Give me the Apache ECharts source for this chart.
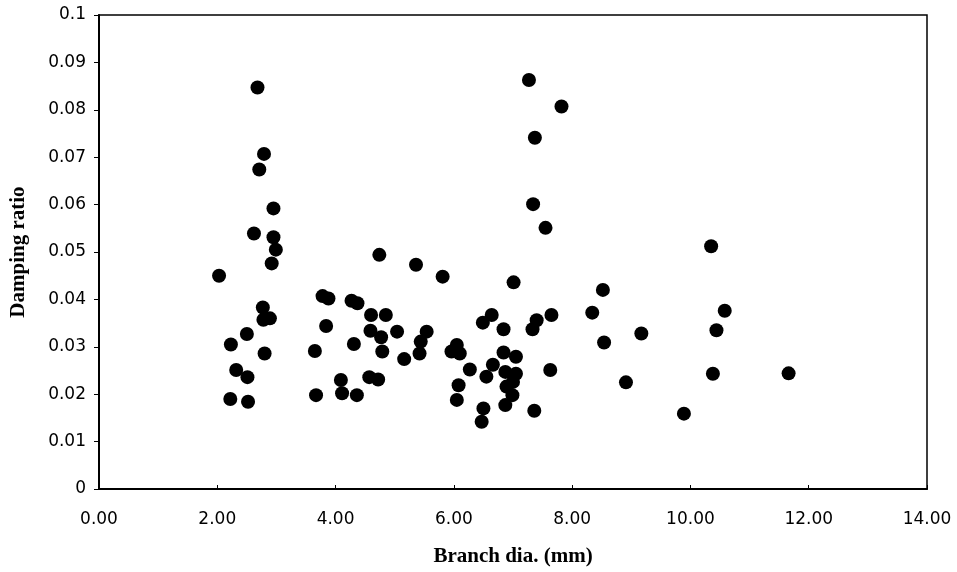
<!DOCTYPE html>
<html>
<head>
<meta charset="utf-8">
<script src="https://cdn.jsdelivr.net/npm/echarts@6/dist/echarts.min.js"></script>
<style>html,body{margin:0;padding:0;background:#fff}#c{width:957px;height:572px}</style>
</head>
<body>
<div id="c"></div>
<script>
// Branch diameter (mm)
var branchDia = [
  2.03, 2.23, 2.32, 2.50, 2.51, 2.22, 2.52, 2.77, 2.78, 2.89,
  2.80, 2.92, 2.99, 2.95, 2.95, 2.62, 2.71, 2.79, 2.68, 3.65,
  3.67, 3.78, 3.88, 3.84, 4.27, 4.37, 4.60, 4.85, 4.59, 4.77,
  5.04, 5.54, 5.44, 5.42, 5.16, 4.79, 4.31, 4.09, 4.11, 4.36,
  4.57, 4.72, 4.74, 5.36, 5.81, 7.01, 8.52, 6.64, 6.49, 6.84,
  7.40, 7.33, 7.65, 6.05, 5.96, 6.10, 6.84, 7.05, 6.27, 6.66,
  6.55, 6.87, 7.05, 7.63, 6.08, 6.89, 7.00, 6.99, 6.05, 6.87,
  6.50, 6.47, 7.36, 7.27, 7.82, 7.37, 7.34, 7.55, 8.34, 8.54,
  9.17, 8.91, 9.89, 10.35, 10.58, 10.44, 10.38, 11.66
];
// Damping ratio
var dampingRatio = [
  0.0450, 0.0305, 0.0251, 0.0327, 0.0236, 0.0190, 0.0184, 0.0383, 0.0357, 0.0360,
  0.0286, 0.0476, 0.0505, 0.0531, 0.0592, 0.0539, 0.0674, 0.0707, 0.0847, 0.0291,
  0.0198, 0.0407, 0.0402, 0.0344, 0.0397, 0.0392, 0.0367, 0.0367, 0.0334, 0.0320,
  0.0332, 0.0332, 0.0311, 0.0286, 0.0274, 0.0290, 0.0306, 0.0230, 0.0202, 0.0198,
  0.0236, 0.0231, 0.0494, 0.0473, 0.0448, 0.0436, 0.0420, 0.0367, 0.0351, 0.0337,
  0.0356, 0.0337, 0.0367, 0.0304, 0.0290, 0.0286, 0.0288, 0.0279, 0.0252, 0.0262,
  0.0237, 0.0247, 0.0243, 0.0251, 0.0219, 0.0216, 0.0226, 0.0198, 0.0188, 0.0177,
  0.0170, 0.0142, 0.0165, 0.0863, 0.0807, 0.0741, 0.0601, 0.0551, 0.0372, 0.0309,
  0.0328, 0.0225, 0.0159, 0.0512, 0.0376, 0.0335, 0.0243, 0.0244
];
var xTitle = 'Branch dia. (mm)';
var yTitle = 'Damping ratio';

var points = branchDia.map(function (x, i) { return [x, dampingRatio[i]]; });

var chart = echarts.init(document.getElementById('c'), null, { renderer: 'canvas' });
chart.setOption({
  animation: false,
  backgroundColor: '#ffffff',
  grid: {
    left: 99, right: 30, top: 15, bottom: 83,
    show: true, borderColor: '#000', borderWidth: 1.5, backgroundColor: 'transparent'
  },
  xAxis: {
    type: 'value', min: 0, max: 14, interval: 2,
    name: xTitle, nameLocation: 'middle', nameGap: 57,
    nameTextStyle: { fontFamily: 'Liberation Serif', fontWeight: 'bold', fontSize: 21, color: '#000' },
    axisLine: { show: true, lineStyle: { color: '#000', width: 2 } },
    axisTick: { show: true, inside: true, length: 4, lineStyle: { color: '#000' } },
    splitLine: { show: false },
    axisLabel: {
      margin: 22, fontFamily: 'DejaVu Sans', fontSize: 17, color: '#000',
      formatter: function (v) { return v.toFixed(2); }
    }
  },
  yAxis: {
    type: 'value', min: 0, max: 0.1, interval: 0.01,
    name: yTitle, nameLocation: 'middle', nameGap: 70,
    nameTextStyle: { fontFamily: 'Liberation Serif', fontWeight: 'bold', fontSize: 21, color: '#000' },
    axisLine: { show: true, lineStyle: { color: '#000', width: 2 } },
    axisTick: { show: true, inside: false, length: 5, lineStyle: { color: '#000' } },
    splitLine: { show: false },
    axisLabel: {
      margin: 13, fontFamily: 'DejaVu Sans', fontSize: 17, color: '#000',
      formatter: function (v) { return String(parseFloat(v.toFixed(3))); }
    }
  },
  series: [{
    type: 'scatter',
    data: points,
    symbol: 'circle',
    symbolSize: 14,
    itemStyle: { color: '#000', opacity: 1 }
  }]
});
</script>
</body>
</html>
